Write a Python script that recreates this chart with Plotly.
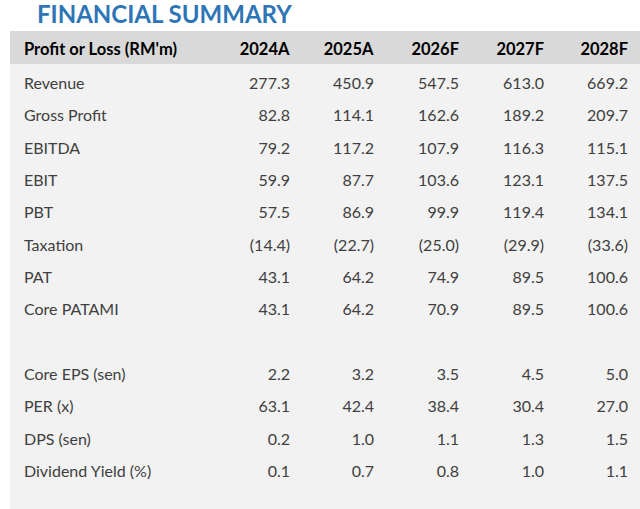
import plotly.graph_objects as go

# Table data
columns = ["Profit or Loss (RM'm)", "2024A", "2025A", "2026F", "2027F", "2028F"]
items = ["Revenue", "Gross Profit", "EBITDA", "EBIT", "PBT", "Taxation", "PAT",
         "Core PATAMI", "", "Core EPS (sen)", "PER (x)", "DPS (sen)", "Dividend Yield (%)"]
y2024 = ["277.3", "82.8", "79.2", "59.9", "57.5", "(14.4)", "43.1", "43.1", "", "2.2", "63.1", "0.2", "0.1"]
y2025 = ["450.9", "114.1", "117.2", "87.7", "86.9", "(22.7)", "64.2", "64.2", "", "3.2", "42.4", "1.0", "0.7"]
y2026 = ["547.5", "162.6", "107.9", "103.6", "99.9", "(25.0)", "74.9", "70.9", "", "3.5", "38.4", "1.1", "0.8"]
y2027 = ["613.0", "189.2", "116.3", "123.1", "119.4", "(29.9)", "89.5", "89.5", "", "4.5", "30.4", "1.3", "1.0"]
y2028 = ["669.2", "209.7", "115.1", "137.5", "134.1", "(33.6)", "100.6", "100.6", "", "5.0", "27.0", "1.5", "1.1"]

W, H = 640, 509
font = "Lato, 'Open Sans', sans-serif"

fig = go.Figure()

fig.add_trace(go.Table(
    columnwidth=[197, 85, 84, 85, 85, 84],
    header=dict(
        values=["<b>%s</b>" % c for c in columns],
        fill_color="rgba(0,0,0,0)",
        line_color="rgba(0,0,0,0)",
        align=["left"] + ["right"] * 5,
        font=dict(family=font, size=16.5, color="#000000"),
        height=38,
    ),
    cells=dict(
        values=[items, y2024, y2025, y2026, y2027, y2028],
        fill_color="#f2f2f2",
        line_color="#f2f2f2",
        align=["left"] + ["right"] * 5,
        font=dict(family=font, size=16, color="#404040"),
        height=32.33,
    ),
    domain=dict(x=[16 / W, 636 / W], y=[0, 1 - 31 / H]),
))

# grey header band and light grey panel behind the rows
fig.add_shape(type="rect", xref="paper", yref="paper",
              x0=10 / W, x1=1, y0=1 - 64 / H, y1=1 - 31 / H,
              fillcolor="#d9d9d9", line_width=0, layer="below")
fig.add_shape(type="rect", xref="paper", yref="paper",
              x0=10 / W, x1=1, y0=0, y1=1 - 64 / H,
              fillcolor="#f2f2f2", line_width=0, layer="below")

fig.update_layout(
    width=W, height=H,
    margin=dict(l=0, r=0, t=0, b=0),
    paper_bgcolor="white",
    title=dict(text="<b>FINANCIAL SUMMARY</b>", x=37 / W, xanchor="left",
               y=1 - 15 / H, yanchor="middle",
               font=dict(family=font, size=24, color="#2e75b6")),
)

fig.write_html("out.html", config={"displayModeBar": False},
               post_script="document.body.style.margin='0';")
